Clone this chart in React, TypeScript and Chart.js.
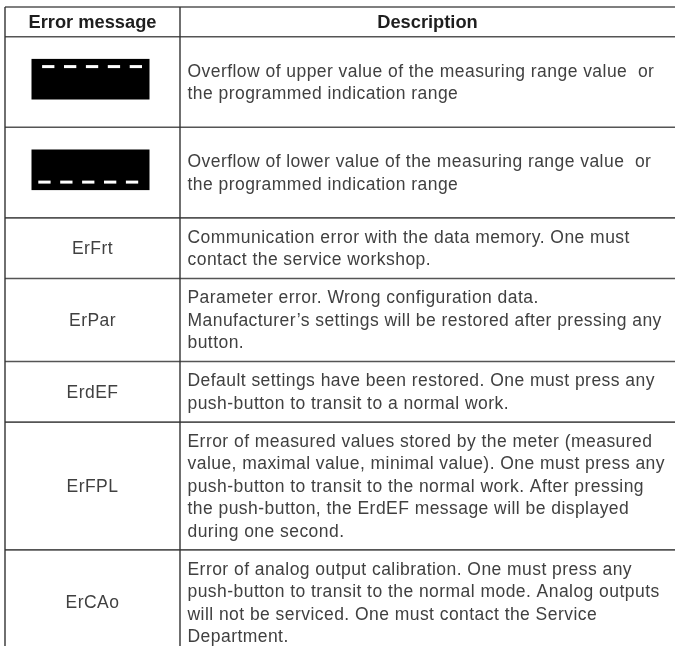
import { useEffect, useRef } from "react";
import { Chart, registerables } from "chart.js";

Chart.register(...registerables);

// ---- table content ----
const columnHeaders = ["Error message", "Description"];
const columnWidths = [175, 495];
const errorMessages = ["", "", "ErFrt", "ErPar", "ErdEF", "ErFPL", "ErCAo"];
const displaySymbols = ["upper", "lower", "", "", "", "", ""];
const dashesPerSymbol = 5;
const descriptions: string[][] = [
  ["Overflow of upper value of the measuring range value  or", "the programmed indication range"],
  ["Overflow of lower value of the measuring range value  or", "the programmed indication range"],
  ["Communication error with the data memory. One must", "contact the service workshop."],
  [
    "Parameter error. Wrong configuration data.",
    "Manufacturer\u2019s settings will be restored after pressing any",
    "button.",
  ],
  ["Default settings have been restored. One must press any", "push-button to transit to a normal work."],
  [
    "Error of measured values stored by the meter (measured",
    "value, maximal value, minimal value). One must press any",
    "push-button to transit to the normal work. After pressing",
    "the push-button, the ErdEF message will be displayed",
    "during one second.",
  ],
  [
    "Error of analog output calibration. One must press any",
    "push-button to transit to the normal mode. Analog outputs",
    "will not be serviced. One must contact the Service",
    "Department.",
  ],
];

// ---- layout constants (in scale units) ----
const HEADER_H = 29.7;
const SYMBOL_ROW_H = 90.6;
const LINE_H = 22.4;
const ROW_PAD = 38.2;
const VISIBLE_H = 639;

const FONT_BODY = '17.5px "Liberation Sans", Arial, sans-serif';
const FONT_HEAD = 'bold 18.3px "Liberation Sans", Arial, sans-serif';

function rowHeight(i: number) {
  if (displaySymbols[i]) return SYMBOL_ROW_H;
  return ROW_PAD + (descriptions[i].length - 1) * LINE_H;
}

function setSpacing(ctx: any, v: string) {
  if ("letterSpacing" in ctx) ctx.letterSpacing = v;
}

const tablePlugin = {
  id: "errorTable",
  afterDraw(chart: any) {
    const ctx: CanvasRenderingContext2D = chart.ctx;
    const xs = chart.scales.x;
    const ys = chart.scales.y;
    const totalW = columnWidths.reduce((a, b) => a + b, 0);
    const colEdges = [0];
    columnWidths.forEach((w) => colEdges.push(colEdges[colEdges.length - 1] + w));
    const rowEdges = [0, HEADER_H];
    descriptions.forEach((_, i) => rowEdges.push(rowEdges[rowEdges.length - 1] + rowHeight(i)));
    const px = (v: number) => xs.getPixelForValue(v);
    const py = (v: number) => ys.getPixelForValue(v);
    const bottom = Math.min(rowEdges[rowEdges.length - 1], VISIBLE_H + 20);

    ctx.save();
    // horizontal rules
    ctx.strokeStyle = "#555";
    ctx.lineWidth = 1.6;
    rowEdges.forEach((e) => {
      if (e > VISIBLE_H) return;
      ctx.beginPath();
      ctx.moveTo(px(0), py(e));
      ctx.lineTo(px(totalW), py(e));
      ctx.stroke();
    });
    // vertical rules (left border and column divider)
    ctx.strokeStyle = "#333";
    ctx.lineWidth = 1.4;
    colEdges.slice(0, -1).forEach((e) => {
      ctx.beginPath();
      ctx.moveTo(px(e), py(0));
      ctx.lineTo(px(e), py(bottom));
      ctx.stroke();
    });

    // header
    ctx.fillStyle = "#1e1e1e";
    ctx.font = FONT_HEAD;
    setSpacing(ctx, "0px");
    ctx.textAlign = "center";
    ctx.textBaseline = "middle";
    columnHeaders.forEach((h, c) => {
      ctx.fillText(h, px((colEdges[c] + colEdges[c + 1]) / 2), py(HEADER_H / 2) + 1);
    });

    // body rows
    ctx.font = FONT_BODY;
    setSpacing(ctx, "0.45px");
    descriptions.forEach((lines, i) => {
      const top = rowEdges[i + 1];
      const bot = rowEdges[i + 2];
      const mid = (top + bot) / 2;
      // first column
      const sym = displaySymbols[i];
      if (sym) {
        const bx0 = px(colEdges[0] + 26.5);
        const bx1 = px(colEdges[0] + 144.5);
        const by0 = py(top + 22.2);
        const by1 = py(top + 62.8);
        ctx.fillStyle = "#000";
        ctx.fillRect(bx0, by0, bx1 - bx0, by1 - by0);
        ctx.fillStyle = "#fff";
        const dashW = 12.3;
        const pitch = 21.9;
        const startX = sym === "upper" ? bx0 + 10.6 : bx0 + 6.8;
        const dashY = sym === "upper" ? by0 + 6.2 : by1 - 9.5;
        for (let d = 0; d < dashesPerSymbol; d++) {
          ctx.fillRect(startX + d * pitch, dashY, dashW, 3);
        }
      } else {
        ctx.fillStyle = "#404040";
        ctx.textAlign = "center";
        ctx.textBaseline = "middle";
        ctx.fillText(errorMessages[i], px((colEdges[0] + colEdges[1]) / 2), py(mid) + 1);
      }
      // description
      ctx.fillStyle = "#404040";
      ctx.textAlign = "left";
      ctx.textBaseline = "middle";
      const first = mid - ((lines.length - 1) * LINE_H) / 2;
      lines.forEach((ln, k) => {
        ctx.fillText(ln, px(colEdges[1] + 7.5), py(first + k * LINE_H) + 1);
      });
    });
    ctx.restore();
  },
};

export default function App() {
  const ref = useRef<HTMLCanvasElement | null>(null);
  useEffect(() => {
    document.body.style.margin = "0";
    document.body.style.overflow = "hidden";
    const canvas = ref.current;
    if (!canvas) return;
    const totalW = columnWidths.reduce((a, b) => a + b, 0);
    const chart = new Chart(canvas, {
      type: "scatter",
      data: { datasets: [{ data: [], pointRadius: 0 }] },
      options: {
        animation: false,
        responsive: false,
        devicePixelRatio: 1,
        layout: { padding: { left: 5, top: 7, right: 0, bottom: 0 } },
        plugins: { legend: { display: false }, tooltip: { enabled: false } },
        scales: {
          x: { type: "linear", min: 0, max: totalW, display: false },
          y: { type: "linear", min: 0, max: VISIBLE_H, reverse: true, display: false },
        },
      },
      plugins: [tablePlugin],
    });
    return () => chart.destroy();
  }, []);
  return (
    <div style={{ width: 675, height: 646, background: "#fff" }}>
      <canvas ref={ref} width={675} height={646} style={{ display: "block" }} />
    </div>
  );
}
